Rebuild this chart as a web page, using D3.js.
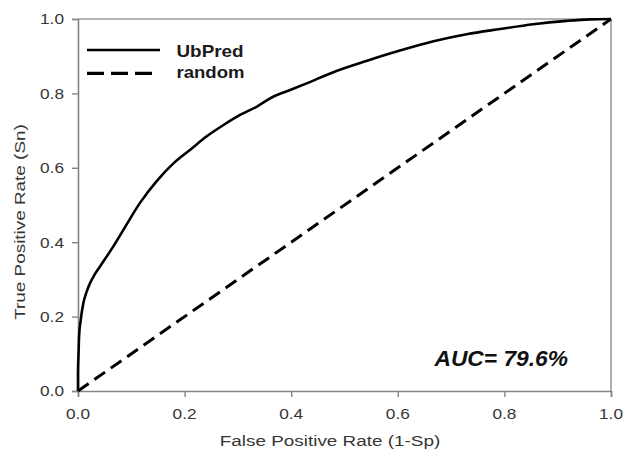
<!DOCTYPE html>
<html>
<head>
<meta charset="utf-8">
<script src="https://cdn.jsdelivr.net/npm/d3@7"></script>
<style>
  html, body { margin: 0; padding: 0; background: #fff; }
  svg { display: block; }
  text { font-family: "Liberation Sans", Arial, Helvetica, sans-serif; }
</style>
</head>
<body>
<svg id="chart" width="623" height="450"></svg>
<script>
// ROC curve of UbPred
const fpr = [0, 0, 0.001, 0.002, 0.005, 0.01, 0.016, 0.022, 0.03, 0.041, 0.066, 0.088, 0.116, 0.148, 0.179, 0.21, 0.241, 0.273, 0.304, 0.335, 0.366, 0.398, 0.429, 0.479, 0.541, 0.604, 0.667, 0.729, 0.792, 0.854, 0.917, 0.96, 1.0];
const tpr = [0, 0.05, 0.1, 0.146, 0.19, 0.236, 0.266, 0.288, 0.31, 0.334, 0.388, 0.44, 0.505, 0.565, 0.612, 0.648, 0.684, 0.715, 0.742, 0.764, 0.791, 0.809, 0.827, 0.857, 0.887, 0.915, 0.94, 0.959, 0.973, 0.986, 0.995, 0.999, 1.0];
const randomX = [0, 1];
const randomY = [0, 1];
const xTicks = [0, 0.2, 0.4, 0.6, 0.8, 1.0];
const yTicks = [0, 0.2, 0.4, 0.6, 0.8, 1.0];
const seriesNames = ["UbPred", "random"];
const xTitle = "False Positive Rate (1-Sp)";
const yTitle = "True Positive Rate (Sn)";
const aucLabel = "AUC= 79.6%";

const svg = d3.select("#chart");
const pLeft = 78, pRight = 611, pTop = 19, pBottom = 391;
const x = d3.scaleLinear().domain([0, 1]).range([pLeft, pRight]);
const y = d3.scaleLinear().domain([0, 1]).range([pBottom, pTop]);

const axisColor = "#858585";
const textColor = "#363636";

// helper: horizontally stretched text
function stext(g, tx, ty, str, opts) {
  const grp = g.append("g").attr("transform",
    `translate(${tx},${ty})` + (opts.rotate ? ` rotate(${opts.rotate})` : "") + ` scale(${opts.sx || 1},1)`);
  grp.append("text")
    .attr("x", 0).attr("y", 0)
    .attr("text-anchor", opts.anchor || "start")
    .attr("font-size", opts.size)
    .attr("font-weight", opts.weight || "normal")
    .attr("font-style", opts.style || "normal")
    .attr("fill", opts.fill || textColor)
    .text(str);
  return grp;
}

// frame (top & right)
svg.append("line").attr("x1", x(0)).attr("x2", x(1)).attr("y1", y(1)).attr("y2", y(1))
  .attr("stroke", "#9a9a9a").attr("stroke-width", 1.6);
svg.append("line").attr("x1", x(1)).attr("x2", x(1)).attr("y1", y(0)).attr("y2", y(1))
  .attr("stroke", "#9a9a9a").attr("stroke-width", 1.6);

// axes
const xAxis = d3.axisBottom(x).tickValues(xTicks).tickSize(6).tickFormat("");
const yAxis = d3.axisLeft(y).tickValues(yTicks).tickSize(6).tickFormat("");
const gx = svg.append("g").attr("transform", `translate(0,${pBottom})`).call(xAxis);
const gy = svg.append("g").attr("transform", `translate(${pLeft},0)`).call(yAxis);
[gx, gy].forEach(g => {
  g.select(".domain").attr("stroke", axisColor).attr("stroke-width", 1.6);
  g.selectAll(".tick line").attr("stroke", axisColor).attr("stroke-width", 1.4);
});

// tick labels
const fmt = d3.format(".1f");
xTicks.forEach(v => stext(svg, x(v), 419, fmt(v), {size: 15, sx: 1.15, anchor: "middle"}));
yTicks.forEach(v => stext(svg, 64, y(v) + 5.3, fmt(v), {size: 15, sx: 1.15, anchor: "end"}));

// axis titles
stext(svg, 330, 445.5, xTitle, {size: 15.5, sx: 1.22, anchor: "middle"});
stext(svg, 24.5, 222, yTitle, {size: 15.5, sx: 1.22, anchor: "middle", rotate: -90});

// random diagonal
const line = d3.line().x(d => x(d[0])).y(d => y(d[1]));
svg.append("path")
  .datum(d3.zip(randomX, randomY))
  .attr("d", line)
  .attr("fill", "none").attr("stroke", "#000").attr("stroke-width", 3)
  .attr("stroke-dasharray", "13,7");

// ROC curve
svg.append("path")
  .datum(d3.zip(fpr, tpr))
  .attr("d", d3.line().x(d => x(d[0])).y(d => y(d[1])).curve(d3.curveMonotoneX))
  .attr("fill", "none").attr("stroke", "#000").attr("stroke-width", 2.6)
  .attr("stroke-linejoin", "round");

// legend
svg.append("line").attr("x1", 87).attr("x2", 160).attr("y1", 50).attr("y2", 50)
  .attr("stroke", "#000").attr("stroke-width", 2.6);
svg.append("line").attr("x1", 87).attr("x2", 152).attr("y1", 73.3).attr("y2", 73.3)
  .attr("stroke", "#000").attr("stroke-width", 3.2).attr("stroke-dasharray", "17,7");
stext(svg, 176.5, 56.7, seriesNames[0], {size: 16, sx: 1.18, weight: "bold", fill: "#1a1a1a"});
stext(svg, 176.5, 78.3, seriesNames[1], {size: 16, sx: 1.16, weight: "bold", fill: "#1a1a1a"});

// AUC annotation
stext(svg, 568, 365.5, aucLabel, {size: 21.5, sx: 1.06, weight: "bold", style: "italic", anchor: "end", fill: "#111"});
</script>
</body>
</html>
